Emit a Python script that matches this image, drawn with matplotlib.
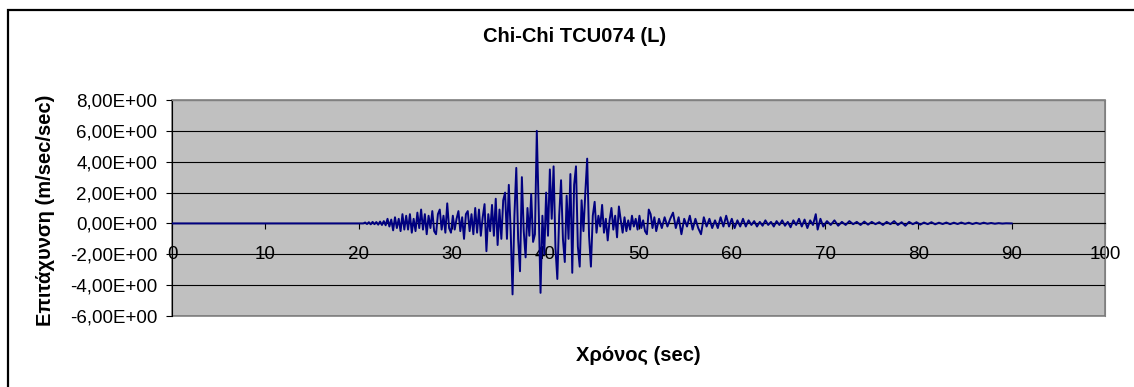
import matplotlib
matplotlib.use('Agg')
import matplotlib.pyplot as plt
from matplotlib.patches import Rectangle
from matplotlib.ticker import FuncFormatter, MultipleLocator

# acceleration record (time in sec, accel in m/sec/sec)
t_quiet = [0.0, 20.5]
a_quiet = [0.0, 0.0]

t_onset = [20.7, 20.9, 21.1, 21.3, 21.5, 21.7, 21.9, 22.1, 22.3, 22.5, 22.7,
           22.9, 23.1, 23.3, 23.5, 23.7, 23.9, 24.1, 24.3, 24.5, 24.7, 24.9]
a_onset = [0.06, -0.04, 0.08, -0.06, 0.1, -0.05, 0.09, -0.08, 0.12, -0.1, 0.15,
           -0.12, 0.3, -0.2, 0.25, -0.45, 0.4, -0.3, 0.3, -0.5, 0.6, -0.4]

t_build = [25.1, 25.3, 25.5, 25.7, 25.9, 26.1, 26.3, 26.5, 26.7, 26.9,
           27.1, 27.3, 27.5, 27.7, 27.9, 28.1, 28.3, 28.5, 28.7, 28.9,
           29.1, 29.3, 29.5, 29.7, 29.9, 30.1, 30.3, 30.5, 30.7, 30.9,
           31.1, 31.3, 31.5, 31.7, 31.9, 32.1, 32.3, 32.5, 32.7, 32.9,
           33.1, 33.3, 33.5, 33.7, 33.9, 34.1, 34.3, 34.5, 34.7, 34.9,
           35.1, 35.3, 35.5]
a_build = [0.5, -0.4, 0.6, -0.6, 0.3, -0.5, 0.7, -0.3, 0.9, -0.4,
           0.6, -0.7, 0.5, -0.3, 0.8, -0.5, -0.7, 0.6, 0.9, -0.4,
           0.5, -0.6, 1.3, -0.3, -0.6, 0.5, -0.4, 0.3, 0.8, -0.5,
           0.4, -1.0, 0.6, 0.8, -0.5, 0.6, -0.7, 1.0, -0.6, 0.9,
           -0.8, 0.4, 1.25, -1.8, 0.6, -0.5, 1.2, -0.8, 1.6, -1.4,
           0.9, -1.0, 1.5]

t_strong = [35.7, 35.9, 36.1, 36.3, 36.5, 36.7, 36.9, 37.1, 37.3, 37.5,
            37.7, 37.9, 38.1, 38.3, 38.5, 38.7, 38.9, 39.1, 39.3, 39.5,
            39.7, 39.9, 40.1, 40.3, 40.5, 40.7, 40.9, 41.1, 41.3, 41.5,
            41.7, 41.9, 42.1, 42.3, 42.5, 42.7, 42.9, 43.1, 43.3, 43.5,
            43.7, 43.9, 44.1, 44.3, 44.5, 44.7, 44.9, 45.1, 45.3]
a_strong = [2.0, -1.0, 2.5, -0.5, -4.6, 0.5, 3.6, -1.0, -3.1, 3.0,
            -0.5, -2.2, 1.0, -0.8, 1.9, -1.2, -0.7, 6.0, 1.0, -4.5,
            0.5, -2.0, 2.0, -0.8, 3.5, 0.3, 3.7, -1.6, -3.6, 0.5,
            2.8, -1.0, -2.5, 1.8, -1.0, 3.2, -3.2, 2.5, 3.7, -1.5,
            -2.8, 1.5, -0.5, 2.0, 4.2, -0.8, -2.8, 0.5, 1.4]

t_decay = [45.5, 45.7, 45.9, 46.1, 46.3, 46.5, 46.7, 46.9, 47.1, 47.3,
           47.5, 47.7, 47.9, 48.1, 48.3, 48.5, 48.7, 48.9, 49.1, 49.3,
           49.5, 49.7, 49.9, 50.1, 50.3, 50.5, 50.7, 50.9, 51.1, 51.3,
           51.5, 51.7, 51.9]
a_decay = [-0.6, 0.5, -0.2, 1.2, -0.6, 0.3, -1.1, 0.2, 1.0, -0.4,
           0.5, -0.9, 1.1, 0.2, -0.6, 0.4, -0.5, 0.2, -0.4, 0.5,
           -0.2, 0.3, -0.4, 0.5, -0.3, 0.2, -0.5, -0.7, 0.9, 0.6,
           -0.3, 0.4, -0.5]

t_coda1 = [52.2, 52.5, 52.8, 53.1, 53.4, 53.7, 54.0, 54.3, 54.6, 54.9,
           55.2, 55.5, 55.8, 56.1, 56.4, 56.7, 57.0, 57.3, 57.6, 57.9,
           58.2, 58.5, 58.8, 59.1, 59.4, 59.7, 60.0, 60.3, 60.6, 60.9,
           61.2, 61.5, 61.8]
a_coda1 = [0.3, -0.3, 0.4, -0.2, 0.3, 0.7, -0.3, 0.4, -0.7, 0.3,
           -0.2, 0.5, -0.4, 0.3, -0.3, -0.7, 0.4, -0.2, 0.3, -0.3,
           0.2, -0.3, 0.4, -0.2, 0.5, -0.2, 0.3, -0.3, 0.2, -0.2,
           0.3, -0.2, 0.2]

t_coda2 = [62.1, 62.4, 62.7, 63.0, 63.3, 63.6, 63.9, 64.2, 64.5, 64.8,
           65.1, 65.4, 65.7, 66.0, 66.3, 66.6, 66.9, 67.2, 67.5, 67.8,
           68.1, 68.4, 68.7, 69.0, 69.2, 69.5, 69.8]
a_coda2 = [-0.1, 0.15, -0.2, 0.1, -0.15, 0.2, -0.1, 0.1, -0.2, 0.15,
           -0.1, 0.2, -0.15, 0.1, -0.25, 0.2, -0.1, 0.3, -0.2, 0.25,
           -0.3, 0.2, -0.1, 0.6, -0.4, 0.3, -0.2]

t_tail = [70.2, 70.6, 71.0, 71.4, 71.8, 72.2, 72.6, 73.0, 73.4, 73.8,
          74.2, 74.6, 75.0, 75.4, 75.8, 76.2, 76.6, 77.0, 77.4, 77.8,
          78.2, 78.6, 79.0, 79.4, 79.8, 80.2, 80.6, 81.0, 81.4, 81.8,
          82.2, 82.6, 83.0, 83.4, 83.8, 84.2, 84.6, 85.0, 85.4, 85.8,
          86.2, 86.6, 87.0, 87.4, 87.8, 88.2, 88.6, 89.0, 89.4, 90.0]
a_tail = [0.15, -0.1, 0.2, -0.15, 0.1, -0.1, 0.15, -0.05, 0.1, -0.1,
          0.12, -0.08, 0.1, -0.05, 0.08, -0.1, 0.1, -0.05, 0.15, -0.1,
          0.08, -0.15, 0.1, -0.05, 0.08, -0.08, 0.06, -0.05, 0.08, -0.06,
          0.05, -0.04, 0.06, -0.05, 0.05, -0.04, 0.06, -0.03, 0.05, -0.04,
          0.04, -0.03, 0.05, -0.02, 0.03, -0.02, 0.02, -0.01, 0.01, 0.0]

time = t_quiet + t_onset + t_build + t_strong + t_decay + t_coda1 + t_coda2 + t_tail
accel = a_quiet + a_onset + a_build + a_strong + a_decay + a_coda1 + a_coda2 + a_tail

plt.rcParams['font.family'] = ['Liberation Sans', 'DejaVu Sans']

W, H = 1134, 387
fig = plt.figure(figsize=(W / 100, H / 100), dpi=100)
fig.patch.set_facecolor('white')

# outer chart frame (right/bottom edges run off the picture)
fig.patches.append(Rectangle((8 / W, -0.5), 2.0, 1.5 - 10 / H,
                             transform=fig.transFigure, fill=False,
                             edgecolor='black', linewidth=1.6))

ax = fig.add_axes([172 / W, 1 - 316 / H, (1105 - 172) / W, (316 - 100) / H])
ax.set_facecolor('#c0c0c0')

ax.plot(time, accel, color='#000080', linewidth=1.4, zorder=3)

ax.set_xlim(0, 100)
ax.set_ylim(-6, 8)
ax.xaxis.set_major_locator(MultipleLocator(10))
ax.yaxis.set_major_locator(MultipleLocator(2))
ax.yaxis.set_major_formatter(FuncFormatter(lambda v, p: f'{v:.2E}'.replace('.', ',')))
ax.grid(axis='y', color='black', linewidth=0.8, zorder=1)

for s in ['top', 'right']:
    ax.spines[s].set_color('#808080')
ax.spines['bottom'].set_position(('data', 0))
ax.spines['bottom'].set_color('black')
ax.spines['left'].set_color('black')
# gray border of the plot area
ax.add_patch(Rectangle((0, 0), 1, 1, transform=ax.transAxes, fill=False,
                       edgecolor='#808080', linewidth=1.2, zorder=0.5, clip_on=False))

ax.tick_params(axis='y', direction='out', length=4.5, labelsize=13.5, pad=6)
ax.tick_params(axis='x', direction='out', length=4, labelsize=13.5, pad=12)

fig.text(575 / W, 1 - 37 / H, 'Chi-Chi TCU074 (L)', ha='center', va='center',
         fontsize=14.5, fontweight='bold')
fig.text(638 / W, 1 - 355 / H, 'Χρόνος (sec)', ha='center', va='center',
         fontsize=14.5, fontweight='bold')
fig.text(46 / W, 1 - 210 / H, 'Επιτάχυνση (m/sec/sec)', ha='center', va='center',
         rotation=90, fontsize=14.5, fontweight='bold')

fig.savefig('out.png', dpi=100)
